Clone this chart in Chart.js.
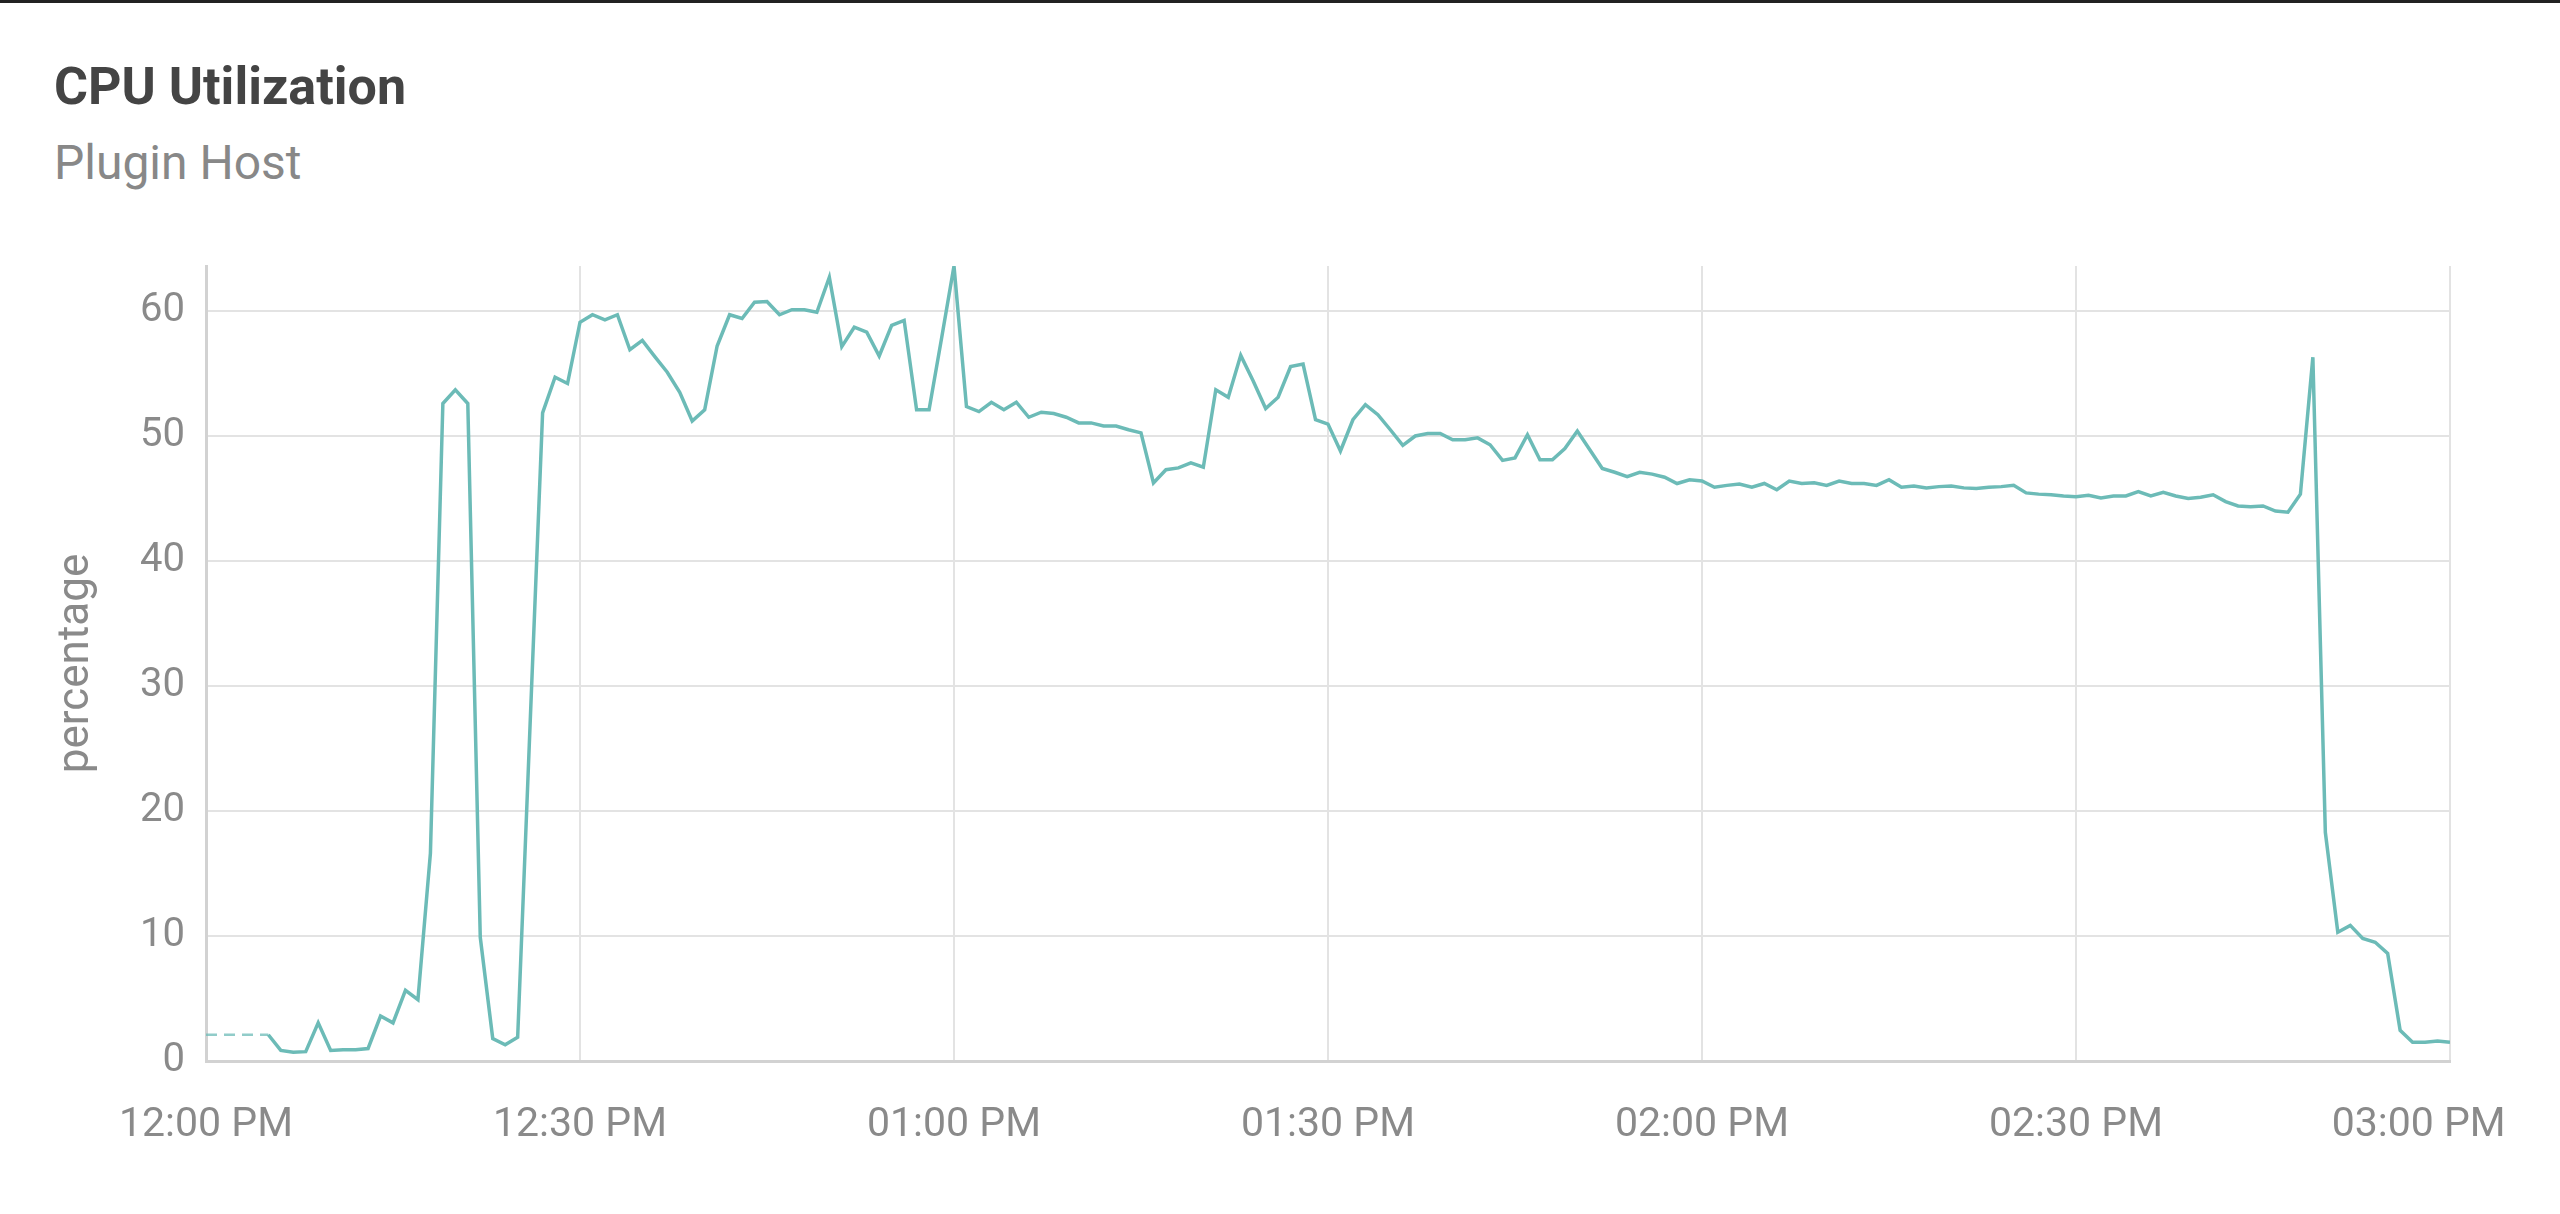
<!DOCTYPE html>
<html>
<head>
<meta charset="utf-8">
<script src="https://cdn.jsdelivr.net/npm/chart.js@4.4.1/dist/chart.umd.min.js"></script>
<style>
  html, body {
    margin: 0;
    padding: 0;
    background: #fff;
  }
  body {
    width: 2560px;
    height: 1214px;
    position: relative;
    overflow: hidden;
    font-family: Roboto, "Noto Sans", sans-serif;
  }
  .topline {
    position: absolute;
    left: 0;
    top: 0;
    width: 2560px;
    height: 3px;
    background: #222;
  }
  .title {
    position: absolute;
    left: 54px;
    top: 61px;
    font-size: 52px;
    line-height: 52px;
    font-weight: 700;
    color: #444;
  }
  .subtitle {
    position: absolute;
    left: 54px;
    top: 139px;
    font-size: 48px;
    line-height: 48px;
    color: #888;
  }
  #chartWrap {
    position: absolute;
    left: 0;
    top: 230px;
    width: 2560px;
    height: 984px;
  }
</style>
</head>
<body>
<div class="topline"></div>
<div class="title">CPU Utilization</div>
<div class="subtitle">Plugin Host</div>
<div id="chartWrap"><canvas id="cpuChart" width="2560" height="984"></canvas></div>

<script>
// x axis is minutes after 12:00 PM, one sample per minute
const tickLabels = ['12:00 PM', '12:30 PM', '01:00 PM', '01:30 PM', '02:00 PM', '02:30 PM', '03:00 PM'];
const tickMinutes = [0, 30, 60, 90, 120, 150, 180];
const startMinute = 5;

// CPU utilization (%) from 12:05 PM to 03:00 PM
const cpuValues = [
  2.1, 0.85, 0.7, 0.75, 3.05, 0.85, 0.9, 0.9, 1.0, 3.6,            // 12:05
  3.05, 5.65, 4.9, 16.6, 52.6, 53.7, 52.6, 9.9, 1.8, 1.3,          // 12:15
  1.9, 27, 51.85, 54.7, 54.2, 59.1, 59.7, 59.3, 59.7, 56.9,        // 12:25
  57.65, 56.35, 55.1, 53.5, 51.2, 52.1, 57.2, 59.7, 59.4, 60.7,    // 12:35
  60.75, 59.7, 60.1, 60.1, 59.9, 62.7, 57.15, 58.7, 58.3, 56.4,    // 12:45
  58.85, 59.25, 52.1, 52.1, 57.8, 63.6, 52.35, 51.95, 52.7, 52.1,  // 12:55
  52.7, 51.5, 51.9, 51.8, 51.5, 51.05, 51.05, 50.8, 50.8, 50.5,    // 01:05
  50.25, 46.25, 47.3, 47.45, 47.85, 47.5, 53.7, 53.1, 56.45, 54.4, // 01:15
  52.2, 53.1, 55.55, 55.75, 51.3, 50.95, 48.8, 51.3, 52.5, 51.7,   // 01:25
  50.5, 49.25, 50.0, 50.2, 50.2, 49.7, 49.7, 49.85, 49.3, 48.05,   // 01:35
  48.25, 50.1, 48.1, 48.1, 49.0, 50.4, 48.9, 47.4, 47.1, 46.75,    // 01:45
  47.1, 46.95, 46.7, 46.2, 46.5, 46.4, 45.9, 46.05, 46.15, 45.9,   // 01:55
  46.2, 45.7, 46.4, 46.2, 46.25, 46.05, 46.4, 46.2, 46.2, 46.05,   // 02:05
  46.5, 45.9, 46.0, 45.85, 45.95, 46.0, 45.85, 45.8, 45.9, 45.95,  // 02:15
  46.05, 45.45, 45.35, 45.3, 45.2, 45.15, 45.25, 45.05, 45.2, 45.2, // 02:25
  45.55, 45.2, 45.5, 45.2, 45.0, 45.1, 45.3, 44.75, 44.4, 44.35,   // 02:35
  44.4, 44.0, 43.9, 45.35, 56.3, 18.3, 10.3, 10.85, 9.8, 9.5,      // 02:45
  8.6, 2.45, 1.5, 1.5, 1.6, 1.5                                    // 02:55
];

const lineColor = 'rgb(108, 187, 183)';
const textColor = '#8a8a8a';

const points = cpuValues.map((v, i) => ({ x: startMinute + i, y: v }));
// dashed lead-in before the first sample, held at the first value
const leadIn = [
  { x: tickMinutes[0], y: cpuValues[0] },
  { x: startMinute, y: cpuValues[0] }
];

const ctx = document.getElementById('cpuChart');
const cpuChart = new Chart(ctx, {
  type: 'line',
  data: {
    datasets: [{
      label: 'CPU',
      data: points,
      borderColor: lineColor,
      borderWidth: 3.5,
      pointRadius: 0,
      tension: 0,
      fill: false
    },
    {
      label: 'lead-in',
      data: leadIn,
      borderColor: 'rgba(108, 187, 183, 0.75)',
      borderWidth: 2.5,
      borderDash: [11, 7],
      pointRadius: 0,
      fill: false
    }]
  },
  options: {
    responsive: false,
    devicePixelRatio: 1,
    animation: false,
    layout: {
      padding: { top: 36, right: 110, bottom: 0, left: 0 }
    },
    plugins: {
      legend: { display: false },
      tooltip: { enabled: false }
    },
    scales: {
      x: {
        type: 'linear',
        bounds: 'data',
        min: tickMinutes[0],
        max: tickMinutes[tickMinutes.length - 1],
        afterBuildTicks: function(scale) {
          scale.ticks = tickMinutes.map(m => ({ value: m }));
        },
        afterFit: function(scale) {
          scale.height = 153;
          // keep label overflow from shrinking the plot area
          scale.paddingLeft = 0;
          scale.paddingRight = 0;
        },
        ticks: {
          autoSkip: false,
          maxRotation: 0,
          padding: 40,
          color: textColor,
          font: { family: 'Roboto', size: 41 },
          callback: function(value) {
            const i = tickMinutes.indexOf(value);
            // last label sits a little left of its grid line
            return i === tickLabels.length - 1 ? tickLabels[i] + '\u2002\u2002\u2002' : tickLabels[i];
          }
        },
        grid: {
          color: '#e3e3e3',
          lineWidth: 2,
          drawTicks: false
        },
        border: {
          color: '#d2d2d2',
          width: 3
        }
      },
      y: {
        bounds: 'data',
        min: 0,
        max: Math.max(...cpuValues),
        afterFit: function(scale) {
          scale.width = 206;
          scale.paddingTop = 0;
          scale.paddingBottom = 0;
        },
        ticks: {
          stepSize: 10,
          includeBounds: false,
          padding: 21,
          color: textColor,
          font: { family: 'Roboto', size: 40 }
        },
        grid: {
          color: '#e3e3e3',
          lineWidth: 2,
          drawTicks: false
        },
        border: {
          color: '#d2d2d2',
          width: 3
        },
        title: {
          display: true,
          text: 'percentage',
          color: textColor,
          font: { family: 'Roboto', size: 44 },
          padding: { top: 51, bottom: 0 }
        }
      }
    }
  }
});
</script>
</body>
</html>
